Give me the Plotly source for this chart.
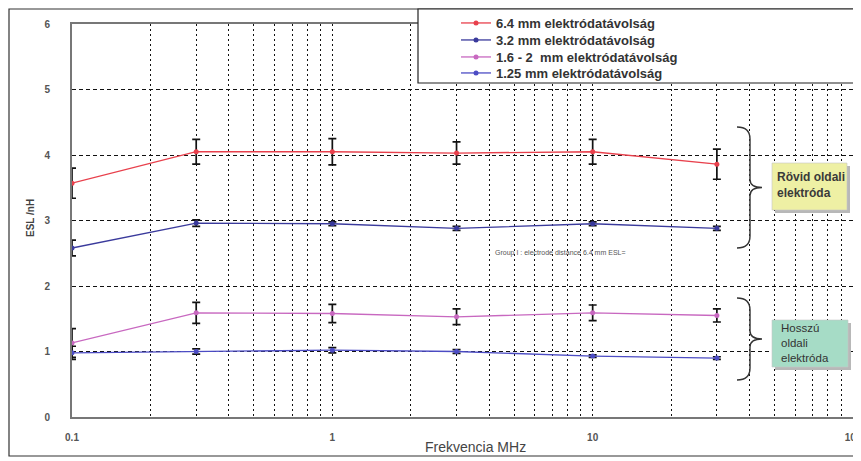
import plotly.graph_objects as go

# ---------------- data ----------------
freq = [0.1, 0.3, 1, 3, 10, 30]

esl_64 = [3.57, 4.05, 4.05, 4.03, 4.05, 3.86]
err_64 = [0.23, 0.19, 0.20, 0.17, 0.19, 0.23]

esl_32 = [2.58, 2.96, 2.95, 2.88, 2.95, 2.88]
err_32 = [0.12, 0.05, 0.03, 0.03, 0.03, 0.03]

esl_16 = [1.13, 1.59, 1.58, 1.53, 1.59, 1.55]
err_16 = [0.22, 0.16, 0.14, 0.12, 0.12, 0.10]

esl_125 = [0.98, 1.00, 1.02, 1.00, 0.93, 0.90]
err_125 = [0.10, 0.04, 0.04, 0.03, 0.02, 0.02]

series_names = ["6.4 mm elektródatávolság", "3.2 mm elektródatávolság",
                "1.6 - 2  mm elektródatávolság", "1.25 mm elektródatávolság"]
series_colors = ["#e8404c", "#3a3a9c", "#c868c0", "#4c4cc4"]

x_tickvals = [0.1, 0.2, 0.3, 0.4, 0.5, 0.6, 0.7, 0.8, 0.9,
              1, 2, 3, 4, 5, 6, 7, 8, 9,
              10, 20, 30, 40, 50, 60, 70, 80, 90, 100]
x_ticktext = ["0.1", "", "", "", "", "", "", "", "",
              "1", "", "", "", "", "", "", "", "",
              "10", "", "", "", "", "", "", "", "", "100"]
y_tickvals = [0, 1, 2, 3, 4, 5, 6]

# ---------------- layout geometry ----------------
# page offset: the html body has an 8px margin, so the figure starts at (8, 8)
OFF = 8
PAGE_W, PAGE_H = 861, 461
W, H = PAGE_W - OFF, PAGE_H - OFF
# plot area in page pixels
L, R, T, B = 72, 853, 24, 417


def px(x):
    return (x - L) / (R - L)


def py(y):
    return (B - y) / (B - T)


FONT = "Liberation Sans, Arial, sans-serif"
legend_ids = ["legend", "legend2", "legend3", "legend4"]
legend_tops = [8, 25, 42, 58]

fig = go.Figure()
for vals, errs, name, col, lid in zip([esl_64, esl_32, esl_16, esl_125],
                                      [err_64, err_32, err_16, err_125],
                                      series_names, series_colors, legend_ids):
    fig.add_trace(go.Scatter(
        x=freq, y=vals, name=name, mode="lines+markers", legend=lid,
        line=dict(color=col, width=1.3),
        marker=dict(color=col, size=5, symbol="circle"),
        error_y=dict(type="data", array=errs, visible=True,
                     color="#111111", thickness=1.7, width=4),
    ))

shapes = []
# outer frame
shapes.append(dict(type="rect", xref="paper", yref="paper",
                   x0=px(OFF + 1), x1=px(857), y0=py(456), y1=py(OFF + 1),
                   line=dict(color="#333333", width=1.2), layer="below"))
# legend box
shapes.append(dict(type="rect", xref="paper", yref="paper",
                   x0=px(418), x1=px(860), y0=py(83), y1=py(OFF + 1),
                   fillcolor="white", line=dict(color="#222222", width=1.2),
                   layer="above"))


def brace(top, bottom, xs, xm, xt):
    mid = (top + bottom) / 2
    r = 12
    pts = [
        f"M {px(xs)},{py(top)}",
        f"Q {px(xm)},{py(top)} {px(xm)},{py(top + r)}",
        f"L {px(xm)},{py(mid - 8)}",
        f"Q {px(xm)},{py(mid)} {px(xt)},{py(mid)}",
        f"Q {px(xm)},{py(mid)} {px(xm)},{py(mid + 8)}",
        f"L {px(xm)},{py(bottom - r)}",
        f"Q {px(xm)},{py(bottom)} {px(xs)},{py(bottom)}",
    ]
    return dict(type="path", xref="paper", yref="paper", path=" ".join(pts),
                line=dict(color="#333333", width=1.4), layer="above")


shapes.append(brace(127, 248, 737, 750, 762))
shapes.append(brace(298, 380, 737, 750, 762))

# label boxes with shadows
for (x0, y0, x1, y1, col) in [(772, 163, 847, 210, "#eef0a4"),
                              (772, 320, 848, 367, "#a6dcc6")]:
    shapes.append(dict(type="rect", xref="paper", yref="paper",
                       x0=px(x0 + 3), x1=px(x1 + 3), y0=py(y1 + 3), y1=py(y0 + 3),
                       fillcolor="#b8b8b8", line=dict(width=0), layer="above"))
    shapes.append(dict(type="rect", xref="paper", yref="paper",
                       x0=px(x0), x1=px(x1), y0=py(y1), y1=py(y0),
                       fillcolor=col, line=dict(color="#c8c8c8", width=0.6),
                       layer="above"))

annotations = [
    dict(text="ESL /nH", x=px(30), y=py(218), xref="paper", yref="paper",
         xanchor="center", yanchor="middle",
         showarrow=False, textangle=-90,
         font=dict(family=FONT, size=10, color="#444444", weight="bold")),
    dict(text="Frekvencia MHz", x=px(475), y=py(447), xref="paper", yref="paper",
         xanchor="center", yanchor="middle", showarrow=False,
         font=dict(family=FONT, size=14, color="#444444")),
    dict(text="Group I : electrode distance 6.4 mm ESL=", x=px(560), y=py(253),
         xref="paper", yref="paper", xanchor="center", yanchor="middle",
         showarrow=False,
         font=dict(family=FONT, size=7, color="#555555")),
    dict(text="Rövid oldali<br>elektróda", x=px(775), y=py(185), xref="paper",
         yref="paper", showarrow=False, xanchor="left", yanchor="middle",
         align="left",
         font=dict(family=FONT, size=12, color="#3a3a3a", weight="bold")),
    dict(text="Hosszú<br>oldali<br>elektróda", x=px(779), y=py(343), xref="paper",
         yref="paper", showarrow=False, xanchor="left", yanchor="middle",
         align="left",
         font=dict(family=FONT, size=11.5, color="#333333")),
]

layout_kw = {}
for lid, top in zip(legend_ids, legend_tops):
    layout_kw[lid] = dict(x=px(456), y=py(top), xanchor="left", yanchor="top",
                          bgcolor="rgba(0,0,0,0)", borderwidth=0,
                          font=dict(family=FONT, size=13, color="#333333",
                                    weight="bold"),
                          itemwidth=30)

fig.update_layout(
    width=W, height=H,
    margin=dict(l=L - OFF, r=PAGE_W - R, t=T - OFF, b=PAGE_H - B, autoexpand=False),
    paper_bgcolor="white", plot_bgcolor="white",
    font=dict(family=FONT),
    shapes=shapes, annotations=annotations,
    showlegend=True,
    xaxis=dict(type="log", range=[-1, 2], tickvals=x_tickvals, ticktext=x_ticktext,
               showgrid=True, gridcolor="#111111", gridwidth=1, griddash="2px,3px",
               showline=True, linecolor="#777777", linewidth=2, mirror=True,
               ticks="", ticklabelstandoff=10, zeroline=False,
               ticklabeloverflow="allow",
               tickfont=dict(family=FONT, size=10, color="#555555", weight="bold")),
    yaxis=dict(range=[0, 6], tickvals=y_tickvals,
               showgrid=True, gridcolor="#111111", gridwidth=1, griddash="4px,3px",
               showline=True, linecolor="#777777", linewidth=2, mirror=True,
               ticks="", ticklabelstandoff=18, zeroline=False,
               tickfont=dict(family=FONT, size=10, color="#555555", weight="bold")),
    **layout_kw,
)

fig.write_html("out.html")
